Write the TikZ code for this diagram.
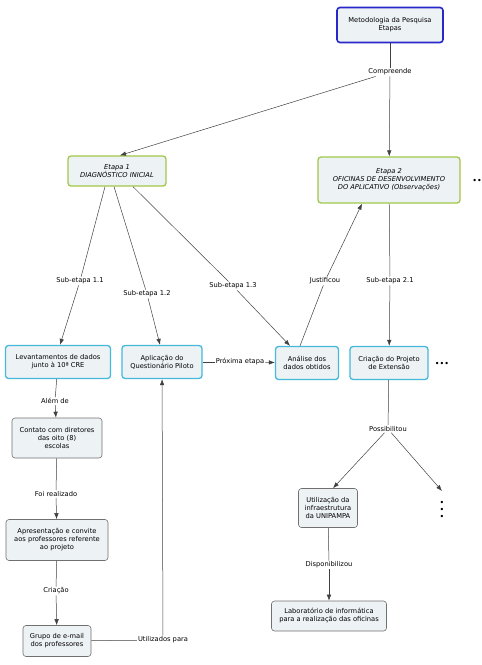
\documentclass[tikz,border=0pt]{standalone}
\usepackage{fontspec}
\setmainfont{DejaVu Sans}
\usetikzlibrary{shapes,arrows.meta}

\definecolor{linegray}{HTML}{404040}
\definecolor{boxfill}{HTML}{EDF2F5}
\definecolor{rootblue}{HTML}{2828C8}
\definecolor{stagegreen}{HTML}{A2C74A}
\definecolor{stepcyan}{HTML}{45B9DA}
\definecolor{plaingray}{HTML}{707070}

\begin{document}
\begin{tikzpicture}[x=1pt,y=-1pt,
    every node/.style={font=\fontsize{6.7}{8}\selectfont, align=center, inner sep=1pt},
    box/.style={draw, rounded corners=3pt, fill=boxfill, inner sep=2pt},
    rootbox/.style={box, draw=rootblue, line width=1.6pt},
    stagebox/.style={box, draw=stagegreen, line width=1.3pt, font=\fontsize{6.7}{8}\selectfont\itshape},
    stepbox/.style={box, draw=stepcyan, line width=1.3pt},
    plainbox/.style={box, draw=plaingray, line width=0.6pt},
    lbl/.style={fill=white},
    move/.style={-{Latex[length=6pt,width=4.5pt]},draw=linegray,line width=0.5pt},
    link/.style={draw=linegray,line width=0.5pt}]

    \useasboundingbox (0,0) rectangle (482,665);

    \node[rootbox, minimum width=106pt, minimum height=35pt] (root) at (390,25) {Metodologia da Pesquisa\\Etapas};
    \node[lbl] (comp) at (390,72) {Compreende};

    \node[stagebox, minimum width=98pt, minimum height=30pt] (e1) at (117,171) {Etapa 1\\DIAGNÓSTICO INICIAL};
    \node[stagebox, minimum width=142pt, minimum height=46pt] (e2) at (389,180) {Etapa 2\\OFICINAS DE DESENVOLVIMENTO\\DO APLICATIVO (Observações)};
    \node[font=\fontsize{8}{9}\selectfont] (dots2) at (477,181) {••};

    \node[lbl] (s11) at (80,281) {Sub-etapa 1.1};
    \node[lbl] (s12) at (147,294) {Sub-etapa 1.2};
    \node[lbl] (s13) at (233,286) {Sub-etapa 1.3};
    \node[lbl] (just) at (325,281) {Justificou};
    \node[lbl] (s21) at (390,281) {Sub-etapa 2.1};

    \node[stepbox, minimum width=105pt, minimum height=33pt] (lev) at (58,362) {Levantamentos de dados\\junto à 10ª CRE};
    \node[stepbox, minimum width=80pt, minimum height=33pt] (apl) at (162,362) {Aplicação do\\Questionário Piloto};
    \node[lbl] (prox) at (240,362) {Próxima etapa};
    \node[stepbox, minimum width=63pt, minimum height=33pt] (ana) at (307,363) {Análise dos\\dados obtidos};
    \node[stepbox, minimum width=78pt, minimum height=33pt] (cria) at (389,363) {Criação do Projeto\\de Extensão};
    \node[font=\fontsize{8}{9}\selectfont] (dots21) at (442,364) {•••};

    \node[lbl] (alem) at (55,401) {Além de};
    \node[plainbox, minimum width=90pt, minimum height=40pt] (cont) at (57,438) {Contato com diretores\\das oito (8)\\escolas};
    \node[lbl] (foi) at (56,494) {Foi realizado};
    \node[plainbox, minimum width=102pt, minimum height=41pt] (apres) at (57,540) {Apresentação e convite\\aos professores referente\\ao projeto};
    \node[lbl] (criacao) at (56,591) {Criação};
    \node[plainbox, minimum width=68pt, minimum height=31pt] (grupo) at (57,641) {Grupo de e-mail\\dos professores};
    \node[lbl] (util) at (163,640) {Utilizados para};

    \node[lbl] (poss) at (388,429) {Possibilitou};
    \node[plainbox, minimum width=59pt, minimum height=39pt] (infra) at (328,508) {Utilização da\\infraestrutura\\da UNIPAMPA};
    \coordinate (more) at (442,491);
    \node[font=\fontsize{8}{7}\selectfont] (vdots) at (442,510) {•\\•\\•};
    \node[lbl] (disp) at (329,565) {Disponibilizou};
    \node[plainbox, minimum width=115pt, minimum height=30pt] (lab) at (329,616) {Laboratório de informática\\para a realização das oficinas};

    \path[link] (root) -- (comp);
    \path[move] (comp) -- (e1.north -| 120,0);
    \path[move] (comp) -- (e2);

    \path[link] (e1.south -| 105,0) -- (s11);
    \path[move] (s11) -- (lev.north -| 60,0);
    \path[link] (e1.south -| 114,0) -- (s12);
    \path[move] (s12) -- (apl.north -| 160,0);
    \path[link] (e1.south -| 133,0) -- (s13);
    \path[move] (s13) -- (ana.north -| 290,0);

    \path[link] (ana.north -| 300,0) -- (just);
    \path[move] (just) -- (e2.south -| 362,0);
    \path[link] (e2) -- (s21);
    \path[move] (s21) -- (cria);

    \path[link] (apl) -- (prox);
    \path[move] (prox) -- (ana);

    \path[link] (lev) -- (alem);
    \path[move] (alem) -- (cont);
    \path[link] (cont) -- (foi);
    \path[move] (foi) -- (apres);
    \path[link] (apres) -- (criacao);
    \path[move] (criacao) -- (grupo);
    \path[link] (grupo) -- (util);
    \path[move] (util) -- (apl);

    \path[link] (cria) -- (poss);
    \path[move] (poss) -- (infra.north -| 333,0);
    \path[move] (poss) -- (more);
    \path[link] (infra) -- (disp);
    \path[move] (disp) -- (lab);

\end{tikzpicture}
\end{document}
